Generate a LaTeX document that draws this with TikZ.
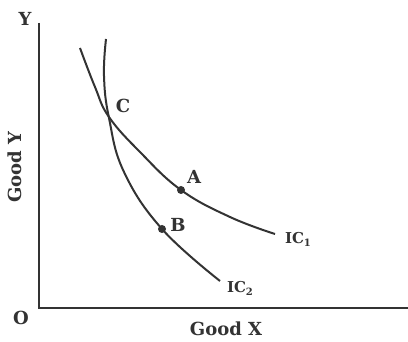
\documentclass[tikz,border=0pt]{standalone}
\usepackage{fontspec}
\setmainfont{DejaVu Serif}
\begin{document}
\begin{tikzpicture}[x=1pt,y=-1pt,
  axis/.style={line width=2pt,draw=black!80},
  curve/.style={line width=2pt,draw=black!80,smooth,tension=0.7},
  dot/.style={circle,fill=black!80,inner sep=0pt,minimum size=8pt},
  lab/.style={font=\fontsize{18}{18}\selectfont\bfseries,text=black!80},
  iclab/.style={font=\fontsize{15}{15}\selectfont\bfseries,text=black!80}]
\fill[white] (0,0) rectangle (408,342);
\useasboundingbox (0,0) rectangle (408,342);
% axes
\coordinate (ytop) at (38.5,23);
\coordinate (orig) at (38.5,308);
\coordinate (xend) at (408,308);
\draw[axis] (ytop) -- (orig) -- (xend);
\node[lab] (Ylab) at (25,19) {Y};
\node[lab] (Olab) at (21,318) {O};
\node[lab] (GX) at (226,329) {Good X};
\node[lab,rotate=90] (GY) at (15,167) {Good Y};
% curves
\draw[curve] plot coordinates {(80,48) (95,87) (109,117) (140,152) (181,190) (230,217) (275,234)};
\draw[curve] plot coordinates {(106,39) (104,76) (109,118) (124,172) (162,229) (220,281)};
% points
\coordinate (C) at (109,118);
\node[dot] (A) at (181,190) {};
\node[dot] (B) at (162,229) {};
\node[lab] (Clab) at (123,106) {C};
\node[lab] (Alab) at (194,177) {A};
\node[lab] (Blab) at (178,225) {B};
\node[iclab] (IC1) at (298,239) {IC\raisebox{-3pt}{\fontsize{10}{10}\selectfont 1}};
\node[iclab] (IC2) at (240,288) {IC\raisebox{-3pt}{\fontsize{10}{10}\selectfont 2}};
\end{tikzpicture}
\end{document}
